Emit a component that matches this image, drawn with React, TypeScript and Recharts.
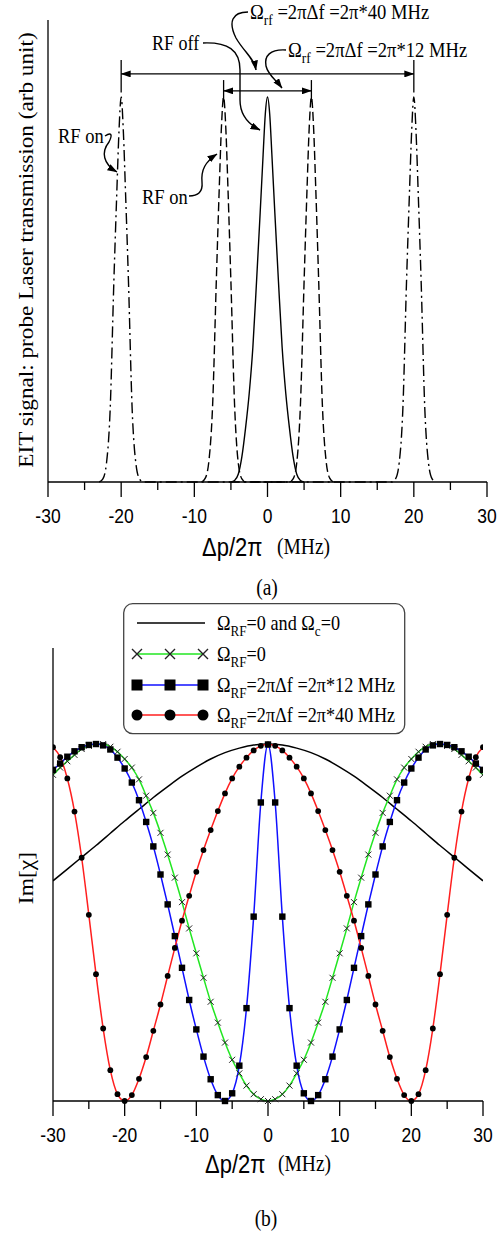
import React from 'react';
import { Legend, Line, LineChart, ReferenceLine, XAxis, YAxis } from 'recharts';

const SERIF = '"Liberation Serif", "Times New Roman", serif';
const SANS = '"Liberation Sans", Arial, sans-serif';
const STRETCH = 1.15;

const freqTicks = [-30, -25, -20, -15, -10, -5, 0, 5, 10, 15, 20, 25, 30];

// (a) probe transmission, RF off / RF on
const rfOffX = [-5, -4.5, -4, -3.5, -3, -2.5, -2, -1.5, -1, -0.6, -0.3, 0, 0.3, 0.6, 1, 1.5, 2, 2.5, 3, 3.5, 4, 4.5, 5];
const rfOffY = [0, 0.02, 0.1, 0.33, 0.7, 1.15, 1.75, 2.6, 3.5, 4.25, 4.78, 5, 4.78, 4.25, 3.5, 2.6, 1.75, 1.15, 0.7, 0.33, 0.1, 0.02, 0];

const rf12X = [-9, -8.5, -8, -7.5, -7, -6.6, -6.3, -6, -5.7, -5.4, -5, -4.5, -4, -3.5, -3, 3, 3.5, 4, 4.5, 5, 5.4, 5.7, 6, 6.3, 6.6, 7, 7.5, 8, 8.5, 9];
const rf12Y = [0, 0.05, 0.28, 1.0, 2.6, 3.8, 4.6, 5, 4.6, 3.8, 2.6, 1.0, 0.25, 0.04, 0, 0, 0.04, 0.25, 1.0, 2.6, 3.8, 4.6, 5, 4.6, 3.8, 2.6, 1.0, 0.28, 0.05, 0];

const rf40X = [-23, -22.5, -22, -21.5, -21, -20.6, -20.3, -20, -19.7, -19.4, -19, -18.5, -18, -17.5, -17, 17, 17.5, 18, 18.5, 19, 19.4, 19.7, 20, 20.3, 20.6, 21, 21.5, 22, 22.5, 23];
const rf40Y = [0, 0.04, 0.25, 0.95, 2.6, 3.75, 4.55, 5, 4.55, 3.75, 2.6, 0.95, 0.25, 0.04, 0, 0, 0.04, 0.25, 0.95, 2.6, 3.75, 4.55, 5, 4.55, 3.75, 2.6, 0.95, 0.25, 0.04, 0];

// (b) Im[chi]
const detuning = [
  -30, -29, -28, -27, -26, -25, -24, -23, -22, -21, -20, -19, -18, -17, -16, -15, -14, -13, -12, -11, -10,
  -9, -8, -7, -6, -5, -4, -3, -2, -1, 0, 1, 2, 3, 4, 5, 6, 7, 8, 9,
  10, 11, 12, 13, 14, 15, 16, 17, 18, 19, 20, 21, 22, 23, 24, 25, 26, 27, 28, 29, 30,
];
const imRf0 = [
  7.20, 7.36, 7.50, 7.64, 7.77, 7.84, 7.88, 7.88, 7.82, 7.71, 7.55, 7.36, 7.10, 6.74, 6.36, 5.92, 5.44, 4.93, 4.39, 3.81, 3.26,
  2.72, 2.19, 1.73, 1.29, 0.91, 0.61, 0.34, 0.15, 0.04, 0.00, 0.04, 0.15, 0.34, 0.61, 0.91, 1.29, 1.73, 2.19, 2.72,
  3.26, 3.81, 4.39, 4.93, 5.44, 5.92, 6.36, 6.74, 7.10, 7.36, 7.55, 7.71, 7.82, 7.88, 7.88, 7.84, 7.77, 7.64, 7.50, 7.36, 7.20,
];
const imRf12 = [
  7.31, 7.45, 7.60, 7.72, 7.81, 7.86, 7.88, 7.85, 7.76, 7.58, 7.34, 7.03, 6.64, 6.16, 5.62, 5.00, 4.34, 3.64, 2.94, 2.23, 1.58,
  0.98, 0.48, 0.13, 0.00, 0.17, 0.78, 2.05, 4.07, 6.59, 7.87, 6.59, 4.07, 2.05, 0.78, 0.17, 0.00, 0.13, 0.48, 0.98,
  1.58, 2.23, 2.94, 3.64, 4.34, 5.00, 5.62, 6.16, 6.64, 7.03, 7.34, 7.58, 7.76, 7.85, 7.88, 7.86, 7.81, 7.72, 7.60, 7.45, 7.31,
];
const imRf40 = [
  7.81, 7.59, 7.12, 6.39, 5.37, 4.11, 2.80, 1.60, 0.68, 0.15, 0.00, 0.13, 0.49, 0.97, 1.55, 2.13, 2.76, 3.38, 3.98, 4.53, 5.06,
  5.54, 5.98, 6.40, 6.79, 7.12, 7.38, 7.58, 7.74, 7.84, 7.87, 7.84, 7.74, 7.58, 7.38, 7.12, 6.79, 6.40, 5.98, 5.54,
  5.06, 4.53, 3.98, 3.38, 2.76, 2.13, 1.55, 0.97, 0.49, 0.13, 0.00, 0.15, 0.68, 1.60, 2.80, 4.11, 5.37, 6.39, 7.12, 7.59, 7.81,
];
const bareX = [-30, -28, -26, -24, -22, -20, -18, -16, -14, -12, -10, -8, -6, -4, -2, 0, 2, 4, 6, 8, 10, 12, 14, 16, 18, 20, 22, 24, 26, 28, 30];
const bareY = [4.86, 5.12, 5.38, 5.64, 5.91, 6.18, 6.44, 6.70, 6.94, 7.17, 7.37, 7.55, 7.69, 7.79, 7.86, 7.88, 7.86, 7.79, 7.69, 7.55, 7.37, 7.17, 6.94, 6.70, 6.44, 6.18, 5.91, 5.64, 5.38, 5.12, 4.86];

const toPoints = (xs: number[], ys: number[]) => xs.map((x, i) => ({ x, y: ys[i] }));
const rfOffData = toPoints(rfOffX, rfOffY);
const rf12Data = toPoints(rf12X, rf12Y);
const rf40Data = toPoints(rf40X, rf40Y);
const bareData = toPoints(bareX, bareY);
const chiData = detuning.map((x, i) => ({ x, rf0: imRf0[i], rf12: imRf12[i], rf40: imRf40[i] }));

const FreqTick = (props: any) => {
  const { x, y, payload } = props;
  const major = payload.value % 10 === 0;
  return (
    <g>
      <line x1={x} y1={y} x2={x} y2={y + (major ? 15 : 8)} stroke="#000" strokeWidth={1.3} />
      {major && (
        <text transform={`translate(${x},${y + 34.5}) scale(1,${STRETCH})`} textAnchor="middle" dominantBaseline="central"
          fontFamily={SANS} fontSize={17.5} fill="#000">{payload.value}</text>
      )}
    </g>
  );
};

// text with alternating normal / subscript parts, centred vertically on y
const SubText = ({ x, y, parts, size }: any) => (
  <text transform={`translate(${x},${y}) scale(1,${STRETCH})`} y={size * 0.33} fontFamily={SERIF} fontSize={size} fill="#000">
    {parts.map((p: string, i: number) => (
      <tspan key={i} fontSize={i % 2 ? size * 0.72 : size} dy={i === 0 ? 0 : i % 2 ? size * 0.28 : -size * 0.28}>{p}</tspan>
    ))}
  </text>
);

const DoubleArrow = (p: any) => (
  <line x1={p.x1} y1={p.y1} x2={p.x2} y2={p.y2} stroke="#000" strokeWidth={1.4}
    markerStart="url(#arrowHead)" markerEnd="url(#arrowHead)" />
);

const Cross = ({ cx, cy, s = 3, w = 1 }: any) => (
  <path d={`M${cx - s},${cy - s}L${cx + s},${cy + s}M${cx - s},${cy + s}L${cx + s},${cy - s}`} stroke="#222" strokeWidth={w} fill="none" />
);
const Square = ({ cx, cy, s = 3.2 }: any) => <rect x={cx - s} y={cy - s} width={2 * s} height={2 * s} fill="#000" />;
const Dot = ({ cx, cy, r = 2.9 }: any) => <circle cx={cx} cy={cy} r={r} fill="#000" />;

const legendLabels: Record<string, string[]> = {
  y: ['Ω', 'RF', '=0 and Ω', 'c', '=0'],
  rf0: ['Ω', 'RF', '=0'],
  rf12: ['Ω', 'RF', '=2πΔf =2π*12 MHz'],
  rf40: ['Ω', 'RF', '=2πΔf =2π*40 MHz'],
};

const LegendBox = (props: any) => {
  const items = props.payload || [];
  const rows = [20, 51, 82, 112];
  return (
    <svg width={284} height={133} style={{ display: 'block' }}>
      <rect x={0.7} y={0.7} width={281} height={130} rx={9} fill="#fff" stroke="#444" strokeWidth={1.3} />
      {items.map((it: any, i: number) => {
        const cy = rows[i];
        const key = String(it.dataKey);
        const marks = [14, 47, 80];
        return (
          <g key={key}>
            <line x1={14} y1={cy} x2={key === 'y' ? 82 : 80} y2={cy} stroke={it.color} strokeWidth={1.5} />
            {key === 'rf0' && marks.map(mx => <Cross key={mx} cx={mx} cy={cy} s={5} w={1.4} />)}
            {key === 'rf12' && marks.map(mx => <Square key={mx} cx={mx} cy={cy} s={5.5} />)}
            {key === 'rf40' && marks.map(mx => <Dot key={mx} cx={mx} cy={cy} r={5.5} />)}
            <SubText x={94} y={cy} parts={legendLabels[key]} size={18.2} />
          </g>
        );
      })}
    </svg>
  );
};

export default function App() {
  return (
    <div style={{ position: 'absolute', left: 0, top: 0, width: 497, height: 1233, background: '#fff' }}>
      <div style={{ position: 'absolute', left: 0, top: 0 }}>
        <LineChart width={497} height={560} margin={{ top: 20, right: 10, bottom: 0, left: 0 }}>
          <XAxis dataKey="x" type="number" domain={[-30, 30]} ticks={freqTicks} interval={0} height={78}
            tick={<FreqTick />} tickLine={false} tickSize={0} tickMargin={0}
            axisLine={{ stroke: '#000', strokeWidth: 1.3 }} allowDataOverflow />
          <YAxis type="number" domain={[0, 6]} ticks={[0, 1, 2, 3, 4, 5, 6]} width={48} tick={false} tickSize={8}
            tickLine={{ stroke: '#000', strokeWidth: 1.3 }} axisLine={{ stroke: '#000', strokeWidth: 1.3 }} />
          <ReferenceLine segment={[{ x: -20, y: 5.06 }, { x: -20, y: 5.48 }]} stroke="#000" strokeWidth={1.3} />
          <ReferenceLine segment={[{ x: 20, y: 5.06 }, { x: 20, y: 5.48 }]} stroke="#000" strokeWidth={1.3} />
          <ReferenceLine segment={[{ x: -6, y: 4.96 }, { x: -6, y: 5.22 }]} stroke="#000" strokeWidth={1.3} />
          <ReferenceLine segment={[{ x: 6, y: 4.96 }, { x: 6, y: 5.22 }]} stroke="#000" strokeWidth={1.3} />
          <ReferenceLine segment={[{ x: -20, y: 5.3 }, { x: 20, y: 5.3 }]} shape={DoubleArrow} />
          <ReferenceLine segment={[{ x: -6, y: 5.08 }, { x: 6, y: 5.08 }]} shape={DoubleArrow} />
          <Line data={rf40Data} dataKey="y" type="monotone" stroke="#000" strokeWidth={1.4} strokeDasharray="11 4 2 4"
            dot={false} activeDot={false} isAnimationActive={false} />
          <Line data={rf12Data} dataKey="y" type="monotone" stroke="#000" strokeWidth={1.4} strokeDasharray="9 4"
            dot={false} activeDot={false} isAnimationActive={false} />
          <Line data={rfOffData} dataKey="y" type="monotone" stroke="#000" strokeWidth={1.4}
            dot={false} activeDot={false} isAnimationActive={false} />
        </LineChart>
      </div>

      <div style={{ position: 'absolute', left: 0, top: 600 }}>
        <LineChart width={497} height={600} data={chiData} margin={{ top: 48, right: 14, bottom: 0, left: 0 }}>
          <XAxis dataKey="x" type="number" domain={[-30, 30]} ticks={freqTicks} interval={0} height={99}
            tick={<FreqTick />} tickLine={false} tickSize={0} tickMargin={0}
            axisLine={{ stroke: '#000', strokeWidth: 1.3 }} allowDataOverflow />
          <YAxis type="number" domain={[0, 10]} ticks={[0, 1, 2, 3, 4, 5, 6, 7, 8, 9, 10]} width={53} tick={false} tickSize={14}
            tickLine={{ stroke: '#000', strokeWidth: 1.3 }} axisLine={{ stroke: '#000', strokeWidth: 1.3 }} />
          <Legend layout="horizontal" verticalAlign="middle" align="center" content={<LegendBox />}
            wrapperStyle={{ position: 'absolute', left: 123, top: 3, width: 284, height: 133 }} />
          <Line data={bareData} dataKey="y" name="bare" type="monotone" stroke="#000" strokeWidth={1.5}
            dot={false} activeDot={false} isAnimationActive={false} />
          <Line dataKey="rf0" name="rf0" type="monotone" stroke="#22e622" strokeWidth={1.5}
            dot={(p: any) => <Cross key={`g${p.index}`} cx={p.cx} cy={p.cy} />} activeDot={false} isAnimationActive={false} />
          <Line dataKey="rf12" name="rf12" type="monotone" stroke="#1010ff" strokeWidth={1.5}
            dot={(p: any) => <Square key={`b${p.index}`} cx={p.cx} cy={p.cy} />} activeDot={false} isAnimationActive={false} />
          <Line dataKey="rf40" name="rf40" type="monotone" stroke="#ff1f1f" strokeWidth={1.5}
            dot={(p: any) => <Dot key={`r${p.index}`} cx={p.cx} cy={p.cy} />} activeDot={false} isAnimationActive={false} />
        </LineChart>
      </div>

      <svg width={497} height={1233} style={{ position: 'absolute', left: 0, top: 0, pointerEvents: 'none' }}>
        <defs>
          <marker id="arrowHead" viewBox="0 0 10 7" refX={9.5} refY={3.5} markerWidth={10} markerHeight={7}
            markerUnits="userSpaceOnUse" orient="auto-start-reverse">
            <path d="M0,0 L10,3.5 L0,7 z" fill="#000" />
          </marker>
        </defs>

        {/* annotations of (a) */}
        <SubText x={250} y={12} parts={['Ω', 'rf', ' =2πΔf =2π*40 MHz']} size={18.6} />
        <SubText x={288} y={50} parts={['Ω', 'rf', ' =2πΔf =2π*12 MHz']} size={18.6} />
        <text transform={`translate(152,43) scale(1,${STRETCH})`} dominantBaseline="central" fontFamily={SERIF} fontSize={18}>RF off</text>
        <text transform={`translate(58,136) scale(1,${STRETCH})`} dominantBaseline="central" fontFamily={SERIF} fontSize={18.5}>RF on</text>
        <text transform={`translate(142,197) scale(1,${STRETCH})`} dominantBaseline="central" fontFamily={SERIF} fontSize={18.5}>RF on</text>
        <g fill="none" stroke="#000" strokeWidth={1.4} markerEnd="url(#arrowHead)">
          <path d="M 248 12 C 232 12, 228 22, 236 38 C 244 52, 254 58, 256 70" />
          <path d="M 203 43 C 228 42, 240 50, 240 70 L 240 100 C 240 115, 248 124, 260 130" />
          <path d="M 286 50 C 270 49, 264 56, 266 66 C 268 75, 276 80, 282 88" />
          <path d="M 105 136 C 111 132, 113 134, 109 142 C 101 152, 103 164, 117 172" />
          <path d="M 189 196 C 198 196, 203 192, 202 182 C 201 170, 205 162, 217 154" />
        </g>

        {/* axis titles */}
        <text transform={`translate(33,250) rotate(-90) scale(${STRETCH},1)`} textAnchor="middle" fontFamily={SERIF} fontSize={20.2}>
          EIT signal: probe Laser transmission (arb unit)
        </text>
        <text transform={`translate(202,547) scale(1,${STRETCH})`} dominantBaseline="central" fontFamily={SANS} fontSize={22}>Δp/2π</text>
        <text transform={`translate(277,547) scale(1,${STRETCH})`} dominantBaseline="central" fontFamily={SERIF} fontSize={19.5}>(MHz)</text>
        <text transform={`translate(267,588) scale(1,${STRETCH})`} textAnchor="middle" dominantBaseline="central" fontFamily={SERIF} fontSize={19.5}>(a)</text>

        <text transform={`translate(33,878) rotate(-90) scale(${STRETCH},1)`} textAnchor="middle" fontFamily={SERIF} fontSize={20.5}>Im[χ]</text>
        <text transform={`translate(205,1164) scale(1,${STRETCH})`} dominantBaseline="central" fontFamily={SANS} fontSize={22}>Δp/2π</text>
        <text transform={`translate(278,1164) scale(1,${STRETCH})`} dominantBaseline="central" fontFamily={SERIF} fontSize={19.5}>(MHz)</text>
        <text transform={`translate(266,1219) scale(1,${STRETCH})`} textAnchor="middle" dominantBaseline="central" fontFamily={SERIF} fontSize={19.5}>(b)</text>
      </svg>
    </div>
  );
}
